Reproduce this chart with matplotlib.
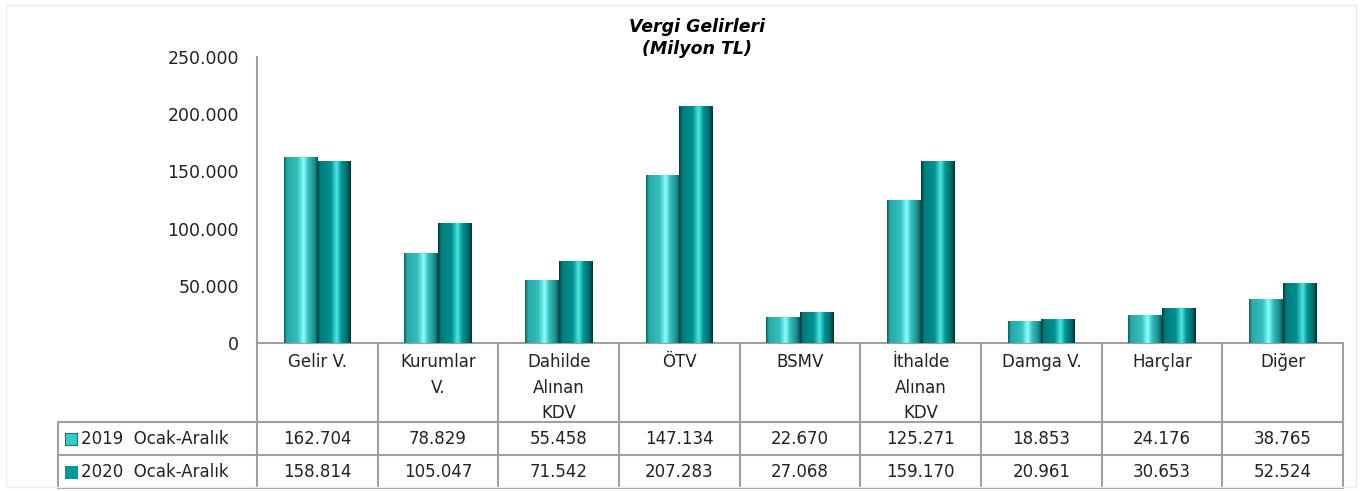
import matplotlib.pyplot as plt
import numpy as np
from matplotlib.colors import LinearSegmentedColormap
from matplotlib.patches import Rectangle

# data
categories = ["Gelir V.", "Kurumlar\nV.", "Dahilde\nAlınan\nKDV", "ÖTV", "BSMV",
              "İthalde\nAlınan\nKDV", "Damga V.", "Harçlar", "Diğer"]
series_names = ["2019  Ocak-Aralık", "2020  Ocak-Aralık"]
v2019 = [162704, 78829, 55458, 147134, 22670, 125271, 18853, 24176, 38765]
v2020 = [158814, 105047, 71542, 207283, 27068, 159170, 20961, 30653, 52524]
yticks = [0, 50000, 100000, 150000, 200000, 250000]

def fmt(v):
    return "{:,}".format(v).replace(",", ".")

# cylinder-like shading for each series
cmap19 = LinearSegmentedColormap.from_list("c19", [(0, "#0f6262"), (0.08, "#2aa9a9"), (0.4, "#33c0c0"),
                                                   (0.58, "#8cffff"), (0.72, "#33bcbc"), (0.9, "#1f8f8f"),
                                                   (1, "#0e5555")])
cmap20 = LinearSegmentedColormap.from_list("c20", [(0, "#003a3a"), (0.08, "#007b7b"), (0.4, "#009090"),
                                                   (0.58, "#4ee6e6"), (0.72, "#009494"), (0.9, "#006a6a"),
                                                   (1, "#003333")])
grad = np.linspace(0, 1, 64).reshape(1, -1)

W, H = 1362, 491
fig = plt.figure(figsize=(W / 100, H / 100), dpi=100)
plt.rcParams['font.family'] = ['DejaVu Sans']

def box(x0, y0, x1, y1):
    # pixel box (top-left origin) -> figure fraction
    return [x0 / W, 1 - y1 / H, (x1 - x0) / W, (y1 - y0) / H]

fig.add_artist(Rectangle((6 / W, 4 / H), 1 - 12 / W, 1 - 9 / H, transform=fig.transFigure,
                         fill=False, edgecolor="#ececec", lw=1))

ax = fig.add_axes(box(257, 57, 1343, 343))
x = np.arange(len(categories))
bw = 0.28
b1 = ax.bar(x - bw / 2, v2019, bw, color="#33cccc", zorder=2)
b2 = ax.bar(x + bw / 2, v2020, bw, color="#009999", zorder=2)
for bars, cm in ((b1, cmap19), (b2, cmap20)):
    for r in bars:
        x0, w, h = r.get_x(), r.get_width(), r.get_height()
        im = ax.imshow(grad, cmap=cm, extent=[x0, x0 + w, 0, h], aspect="auto", zorder=3)
        im.set_clip_path(r)
ax.set_xlim(-0.5, len(categories) - 0.5)
ax.set_ylim(0, 250000)
ax.set_yticks(yticks)
ax.set_yticklabels([fmt(v) for v in yticks], fontsize=12.5, color="#222222")
ax.set_xticks([])
ax.tick_params(axis="y", length=0, pad=13)
for s in ("top", "right"):
    ax.spines[s].set_visible(False)
for s in ("left", "bottom"):
    ax.spines[s].set_color("#a0a0a0")
    ax.spines[s].set_linewidth(1.5)

fig.text(697 / W, 1 - 38 / H, "Vergi Gelirleri\n(Milyon TL)", ha="center", va="center",
         fontsize=12.5, fontweight="bold", fontstyle="italic", linespacing=1.35)

# data table
left_w = (257 - 58) / ((1343 - 257) / len(categories))
tax = fig.add_axes(box(58, 343, 1343, 489))
tax.set_xlim(-0.5 - left_w, len(categories) - 0.5)
tax.set_ylim(146, 0)
tax.axis("off")
lc = "#a0a0a0"
xl = -0.5 - left_w
for k in range(len(categories) + 1):
    tax.plot([k - 0.5, k - 0.5], [0, 145], color=lc, lw=1.5, clip_on=False)
tax.plot([xl, xl], [79, 145], color=lc, lw=1.5, clip_on=False)
for yy in (79, 112, 145):
    tax.plot([xl, len(categories) - 0.5], [yy, yy], color=lc, lw=1.5, clip_on=False)

for i, c in enumerate(categories):
    tax.text(i, 10, c, ha="center", va="top", fontsize=12, color="#222222", linespacing=1.55)
rows = [v2019, v2020]
for j, (name, vals, col, ec) in enumerate(zip(series_names, rows, ("#33cccc", "#009999"),
                                                ("#2a6f6f", "#009999"))):
    yc = 96 + j * 33
    sw = fig.add_axes(box(65, 343 + yc - 6, 77, 343 + yc + 6))
    sw.set_facecolor(col)
    sw.set_xticks([]); sw.set_yticks([])
    for s in sw.spines.values():
        s.set_color(ec); s.set_linewidth(0.8)
    tax.text(xl + 0.19, yc, name, ha="left", va="center", fontsize=12, color="#222222")
    for i, v in enumerate(vals):
        tax.text(i, yc, fmt(v), ha="center", va="center", fontsize=12, color="#222222")

fig.savefig("out.png", dpi=100)
